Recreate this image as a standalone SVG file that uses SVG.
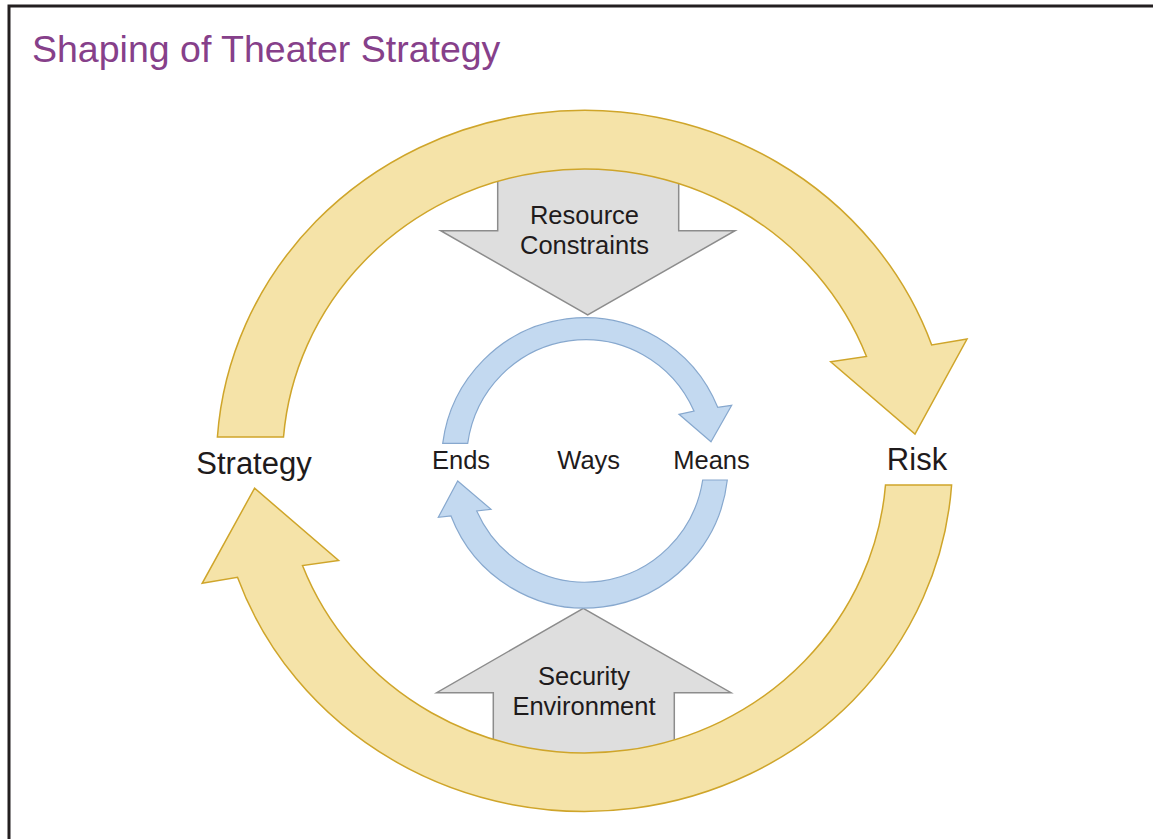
<svg xmlns="http://www.w3.org/2000/svg" width="1153" height="839" viewBox="0 0 1153 839">
<style>
.frame{fill:none;stroke:#231F20;stroke-width:3}
.title{font-family:"Liberation Sans",Arial,sans-serif;font-size:37.5px;fill:#86408A}
.lbl{font-family:"Liberation Sans",Arial,sans-serif;fill:#1F1B1C;text-anchor:middle}
.big{font-size:31px}
.mid{font-size:25.5px}
.gray{fill:#DEDEDE;stroke:#8C8C8C;stroke-width:1.5;stroke-linejoin:miter}
.gold{fill:#F5E3A8;stroke:#CFA52A;stroke-width:1.5;stroke-linejoin:miter}
.blue{fill:#C3D9F0;stroke:#87A8CE;stroke-width:1.2;stroke-linejoin:miter}
</style>
<rect x="0" y="0" width="1153" height="839" fill="#FFFFFF"/>
<rect class="frame" x="9" y="6" width="1160" height="860"/>
<text class="title" x="32" y="61.5">Shaping of Theater Strategy</text>

<g id="resource-constraints">
<path class="gray" d="M497.7,168 L678.7,168 L678.7,230.7 L735,230.7 L587.7,315 L440.7,230.7 L497.7,230.7 Z"/>
<text class="lbl mid" x="584.5" y="224.3">Resource</text>
<text class="lbl mid" x="584.5" y="253.5">Constraints</text>
</g>

<g id="security-environment">
<path class="gray" d="M493.3,770 L674.3,770 L674.3,692.7 L731,692.7 L583.3,608.3 L436.7,692.7 L493.3,692.7 Z"/>
<text class="lbl mid" x="584" y="685">Security</text>
<text class="lbl mid" x="584" y="715">Environment</text>
</g>

<g id="connectors">
<path id="arc-strategy-risk" class="gold" d="M217.4,437 A368,351 0 0 1 931.7,345 L967,339 L915,434 L830.7,361.7 L866.5,356.5 A302,292 0 0 0 283.5,437 Z"/>
<path id="arc-risk-strategy" class="gold" d="M951.6,485 A368,351 0 0 1 237.5,577.3 L202.2,583.3 L254.6,488.2 L338.6,560.5 L302.5,565.5 A302,292 0 0 0 885.5,485 Z"/>
<path id="arc-ends-means" class="blue" d="M442.7,443.3 A143.5,144.5 0 0 1 717.7,407.3 L731.7,405.3 L711,441.7 L679,414.3 L694,411 A119,121 0 0 0 467.7,443.3 Z"/>
<path id="arc-means-ends" class="blue" d="M727.3,480 A143.5,144.5 0 0 1 451,516 L438.3,517.3 L457.7,481 L491,509.3 L476.7,511 A119,121 0 0 0 702.7,480 Z"/>
</g>

<g id="strategy"><text class="lbl big" x="254" y="474">Strategy</text></g>
<g id="risk"><text class="lbl big" x="917" y="470">Risk</text></g>
<g id="ends"><text class="lbl mid" x="461" y="468.5">Ends</text></g>
<g id="ways"><text class="lbl mid" x="588.7" y="468.5">Ways</text></g>
<g id="means"><text class="lbl mid" x="711.5" y="468.5">Means</text></g>
</svg>
